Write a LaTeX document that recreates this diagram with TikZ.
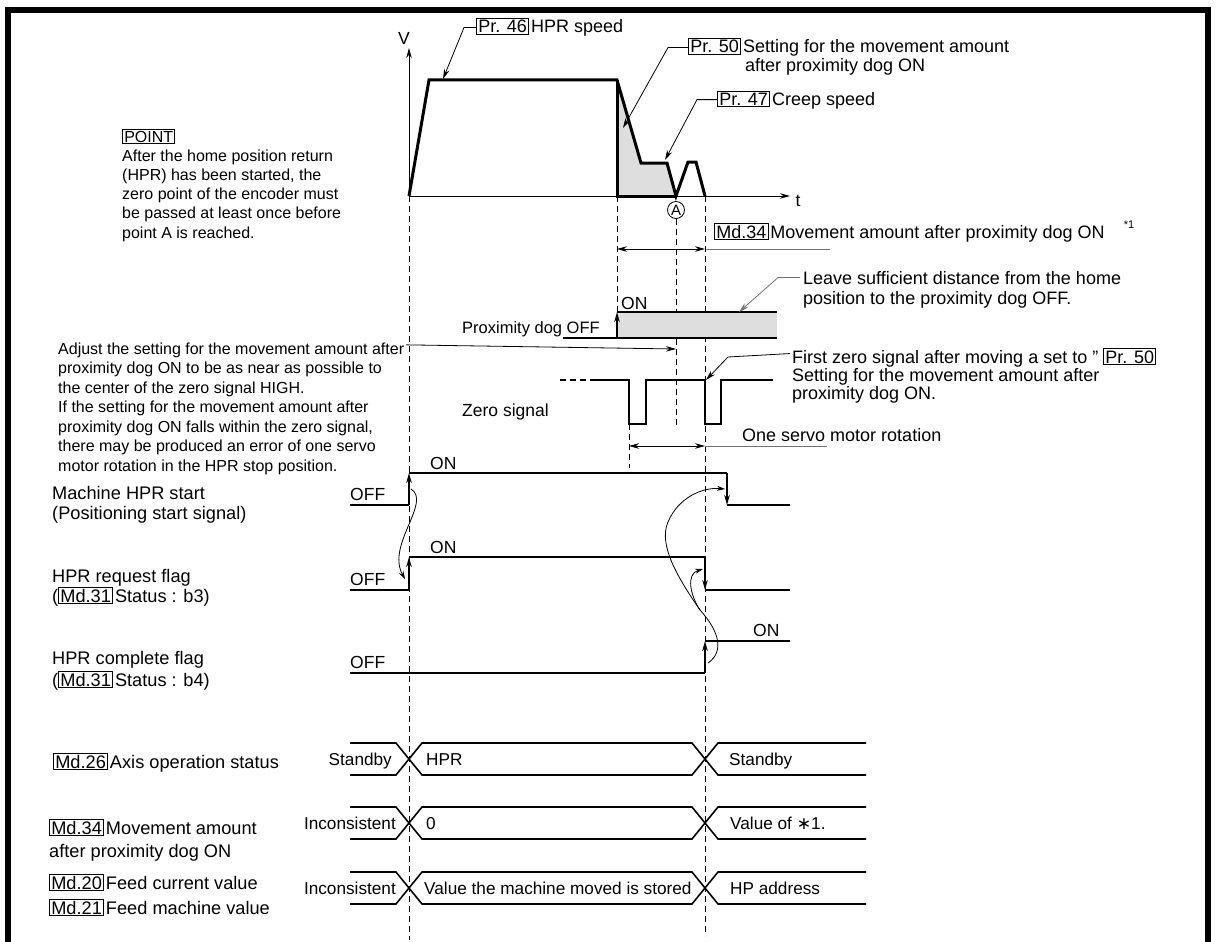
\documentclass[tikz,border=0pt]{standalone}
\usepackage{fontspec}
\setmainfont{Liberation Sans}
\newfontfamily\symf{DejaVu Sans}
\usetikzlibrary{arrows.meta}
\newcommand\bx[1]{{\setlength\fboxsep{1.2pt}\setlength\fboxrule{0.9pt}\fbox{#1}}}
\begin{document}
\begin{tikzpicture}[x=1pt,y=-1pt,
  lbl/.style={font=\fontsize{17.5}{20}\selectfont, inner sep=0, anchor=base west},
  side/.style={font=\fontsize{18.2}{20}\selectfont, inner sep=0, anchor=base west},
  bus/.style={font=\fontsize{17.2}{20}\selectfont, inner sep=0, anchor=base west},
  big/.style={font=\fontsize{18}{20}\selectfont, inner sep=0, anchor=base west},
  note/.style={font=\fontsize{16}{19.5}\selectfont, inner sep=0, anchor=base west},
  sig/.style={line width=1.6},
  prof/.style={line width=3, line join=miter},
  thinl/.style={line width=0.8},
  grayl/.style={line width=0.8, draw=black!55},
  dsh/.style={line width=0.9, dash pattern=on 6 off 4},
  ar/.style={-{Stealth[length=10,width=5.5]}},
  arb/.style={{Stealth[length=10,width=5.5]}-{Stealth[length=10,width=5.5]}},
  shade/.style={fill=black!13}]
\useasboundingbox (0,0) rectangle (1216,942);
% frame
\draw[line width=6] (8,942) -- (8,10) -- (1208,10) -- (1208,942);

% ---------- velocity chart ----------
\fill[shade] (617,80) -- (641,163) -- (667,163) -- (676,196) -- (617,196) -- cycle;
\coordinate (o) at (409,196);
\coordinate (vtop) at (409,48);
\coordinate (tend) at (790,196);
\draw[thinl,ar] (o) -- (vtop);
\draw[thinl,ar] (o) -- (tend);
\node[lbl, anchor=center] (V) at (404,38) {V};
\node[lbl, anchor=center] (T) at (798,201) {t};
\draw[prof] (409,196) -- (429,80) -- (617,80) -- (641,163) -- (667,163) -- (676,196) -- (688,162) -- (696,162) -- (705,196);
\draw[prof] (617,80) -- (617,196) -- (676,196);
\node[circle, draw, thinl, inner sep=0, minimum size=17, font=\fontsize{15}{15}\selectfont] (A) at (676,210) {A};

% top labels
\node[big] (p46) at (476,33) {\bx{Pr. 46}\hspace{2pt}HPR speed};
\coordinate (tip46) at (443,79);
\draw[thinl,ar] (p46.west) -- ++(-12,0) -- (tip46);
\node[big] (p50) at (688,53) {\bx{Pr. 50}\hspace{2pt}Setting for the movement amount};
\node[big] (p50b) at (745,72) {after proximity dog ON};
\coordinate (tip50) at (623,128);
\draw[thinl,ar] (p50.west) -- ++(-20,0) -- (tip50);
\node[big] (p47) at (717,105) {\bx{Pr. 47}\hspace{2pt}Creep speed};
\coordinate (tip47) at (665,160);
\draw[thinl,ar] (p47.west) -- ++(-20,0) -- (tip47);

% POINT
\node[note] (point) at (122,142) {\bx{POINT}};
\foreach \t [count=\i] in {After the home position return,{(HPR) has been started, the},zero point of the encoder must,be passed at least once before,point A is reached.}
  \node[note] (pt\i) at (122,{161+19.3*(\i-1)}) {\t};

% Md.34 movement amount
\node[big] (md34t) at (714,238) {\bx{Md.34}\hspace{2pt}Movement amount after proximity dog ON};
\node[font=\fontsize{11}{12}\selectfont, inner sep=0] (star1) at (1129,225) {*1};
\coordinate (m1) at (617,249);
\coordinate (m2) at (705,249);
\coordinate (m3) at (830,249);
\draw[thinl,arb] (m1) -- (m2);
\draw[grayl] (m2) -- (m3);

% dashed verticals
\draw[dsh] (409,196) -- (409,940);
\draw[dsh] (617,196) -- (617,338);
\draw[dsh] (A.south) -- (676,428);
\draw[dsh] (705,196) -- (705,936);
\draw[dsh] (629,424) -- (629,468);

% proximity dog
\node[note, font=\fontsize{16.5}{19.5}\selectfont] (dogl) at (462,333) {Proximity dog OFF};
\fill[shade] (617,312) rectangle (777,338);
\draw[sig] (563,338) -- (777,338);
\draw[sig] (617,312) -- (777,312);
\draw[sig,ar] (617,338) -- (617,312);
\node[lbl] (dogon) at (621,309) {ON};
\node[big] (leave1) at (803,284) {Leave sufficient distance from the home};
\node[big] (leave2) at (803,304) {position to the proximity dog OFF.};
\coordinate (tipleave) at (739,312);
\draw[grayl,ar] (leave1.west) ++(-3,0) -- ++(-22,0) -- (tipleave);

% adjust note
\foreach \t [count=\i] in {Adjust the setting for the movement amount after,proximity dog ON to be as near as possible to,the center of the zero signal HIGH.,If the setting for the movement amount after,{proximity dog ON falls within the zero signal,},there may be produced an error of one servo,motor rotation in the HPR stop position.}
  \node[note] (adj\i) at (58,{354+19.5*(\i-1)}) {\t};
\coordinate (tipadj) at (676,349);
\draw[thinl,ar] (adj1.east) ++(2,-5) -- (tipadj);

% zero signal
\node[lbl] (zerol) at (462,416) {Zero signal};
\draw[sig, dash pattern=on 6 off 4] (560,380) -- (591,380);
\draw[sig] (591,380) -- (629,380) -- (629,424) -- (646,424) -- (646,380) -- (705,380) -- (705,424) -- (721,424) -- (721,380) -- (773,380);
\node[big] (fz1) at (792,363) {First zero signal after moving a set to "\ \bx{Pr. 50}};
\node[big] (fz2) at (792,381) {Setting for the movement amount after};
\node[big] (fz3) at (792,399) {proximity dog ON.};
\coordinate (tipfz) at (706,380);
\draw[thinl,ar] (fz1.west) ++(-2,-4) -- (728,357) -- (tipfz);
\node[big] (servo) at (742,441) {One servo motor rotation};
\coordinate (s1) at (629,446);
\coordinate (s2) at (705,446);
\coordinate (s3) at (827,446);
\draw[thinl,arb] (s1) -- (s2);
\draw[grayl] (s2) -- (s3);

% Machine HPR start
\node[side] (st1) at (52,499) {Machine HPR start};
\node[side] (st2) at (52,519) {(Positioning start signal)};
\node[lbl] (stoff) at (350,500) {OFF};
\node[lbl] (ston) at (430,469) {ON};
\draw[sig] (350,505) -- (409,505);
\draw[sig,ar] (409,505) -- (409,473);
\draw[sig] (409,473) -- (727,473);
\draw[sig,ar] (727,473) -- (727,505);
\draw[sig] (727,505) -- (790,505);

% HPR request flag
\node[side] (rq1) at (52,582) {HPR request flag};
\node[side] (rq2) at (52,602) {(\bx{Md.31}\hspace{2pt}Status : b3)};
\node[lbl] (rqoff) at (350,585) {OFF};
\node[lbl] (rqon) at (430,553) {ON};
\draw[sig] (350,590) -- (409,590);
\draw[sig,ar] (409,590) -- (409,557);
\draw[sig] (409,557) -- (705,557);
\draw[sig,ar] (705,557) -- (705,590);
\draw[sig] (705,590) -- (790,590);

% HPR complete flag
\node[side] (cp1) at (52,664) {HPR complete flag};
\node[side] (cp2) at (52,686) {(\bx{Md.31}\hspace{2pt}Status : b4)};
\node[lbl] (cpoff) at (350,668) {OFF};
\node[lbl] (cpon) at (753,636) {ON};
\draw[sig] (350,673) -- (705,673);
\draw[sig,ar] (705,673) -- (705,641);
\draw[sig] (705,641) -- (790,641);

% curved cause arrows
\draw[thinl,-{Stealth[length=8,width=5]}] (411,489) .. controls (432,502) and (386,545) .. (405,579);
\coordinate (cs) at (708,663);
\coordinate (cm) at (700,610);
\draw[thinl] (cs) .. controls (724,652) and (720,632) .. (cm);
\draw[thinl,-{Stealth[length=8,width=5]}] (cm) .. controls (678,578) and (658,545) .. (668,522) .. controls (678,498) and (702,487) .. (725,489);
\draw[thinl,-{Stealth[length=8,width=5]}] (cm) .. controls (690,595) and (686,574) .. (703,569);

% bus rows
\foreach \c in {759,823,888}{
  \draw[sig] (350,\c-16) -- (396,\c-16) -- (422,\c+16) -- (692,\c+16) -- (718,\c-16) -- (866,\c-16);
  \draw[sig] (350,\c+16) -- (396,\c+16) -- (422,\c-16) -- (692,\c-16) -- (718,\c+16) -- (866,\c+16);
}
\node[side] (md26) at (53,768) {\bx{Md.26}\hspace{2pt}Axis operation status};
\node[bus, anchor=base east] (b1a) at (392,765) {Standby};
\node[bus] (b1b) at (426,765) {HPR};
\node[bus] (b1c) at (729,765) {Standby};

\node[side] (md34a) at (49,834) {\bx{Md.34}\hspace{2pt}Movement amount};
\node[side] (md34b) at (49,857) {after proximity dog ON};
\node[bus, anchor=base east] (b2a) at (396,829) {Inconsistent};
\node[bus] (b2b) at (426,829) {0};
\node[bus] (b2c) at (730,829) {Value of {\symf ∗}1.};

\node[side] (md20) at (49,889) {\bx{Md.20}\hspace{2pt}Feed current value};
\node[side] (md21) at (49,914) {\bx{Md.21}\hspace{2pt}Feed machine value};
\node[bus, anchor=base east] (b3a) at (396,894) {Inconsistent};
\node[bus] (b3b) at (424,894) {Value the machine moved is stored};
\node[bus] (b3c) at (730,894) {HP address};
\end{tikzpicture}
\end{document}
